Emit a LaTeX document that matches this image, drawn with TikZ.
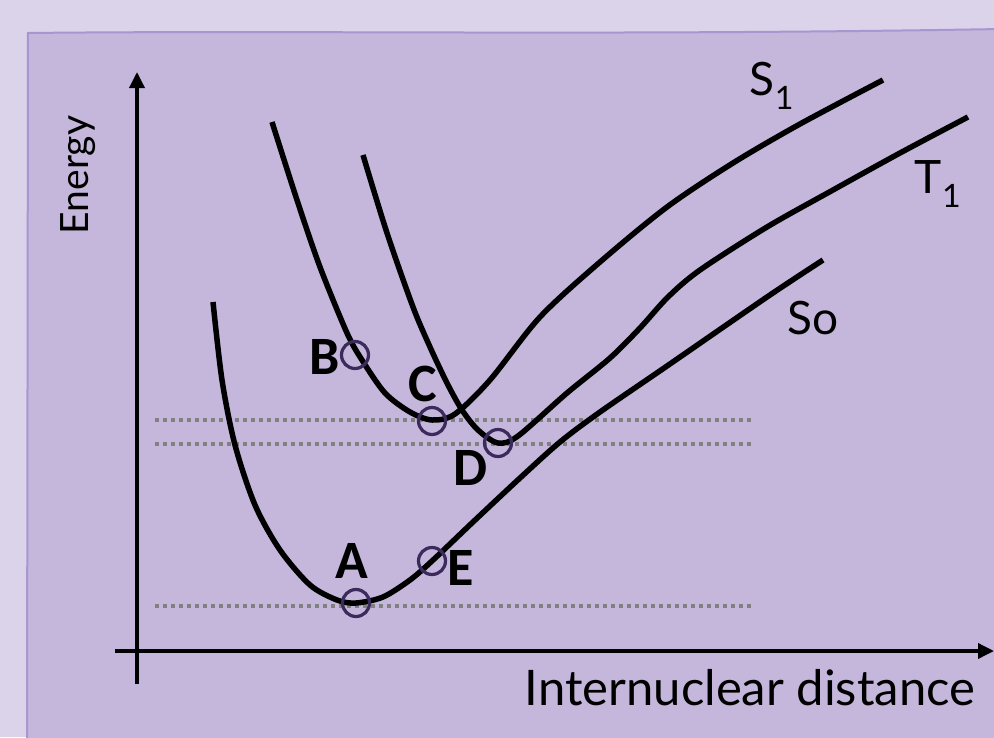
\documentclass[tikz,border=0pt]{standalone}
\usepackage{fontspec}
\setmainfont{Lato}
\newfontfamily\labelfont{Carlito}
\usetikzlibrary{arrows.meta}

\definecolor{outerbg}{HTML}{DAD3EA}
\definecolor{innerbg}{HTML}{C5B6DB}
\definecolor{framecol}{HTML}{A896D0}
\definecolor{ringcol}{HTML}{3B2A5C}

\begin{document}
\begin{tikzpicture}[x=1pt, y=-1pt,
    curve/.style={line width=5.5pt},
    axis/.style={line width=3.5pt, -{Triangle[length=16pt,width=15pt]}},
    level/.style={gray, line width=3.5pt, dash pattern=on 3.5pt off 4.5pt},
    ring/.style={circle, draw=ringcol, line width=3.2pt, minimum size=27pt, inner sep=0pt},
    point/.style={font=\labelfont\bfseries\fontsize{54}{54}\selectfont},
    tag/.style={font=\fontsize{46}{46}\selectfont}
]

\useasboundingbox (0,0) rectangle (994,737);
\fill[outerbg] (0,0) rectangle (994,737);

% Panel
\fill[innerbg] (28,33) .. controls (300,30) and (600,36) .. (1000,29) -- (1000,745) -- (28,745) -- cycle;
\draw[framecol, line width=2pt] (27,745) -- (28,33) .. controls (300,30) and (600,36) .. (1000,29);

% Axes
\coordinate (ybot) at (137,684);
\coordinate (ytop) at (137,72);
\coordinate (xleft) at (115,651);
\coordinate (xright) at (994,651);
\draw[axis] (ybot) -- (ytop);
\draw[axis] (xleft) -- (xright);

\node[tag, font=\fontsize{39}{39}\selectfont, rotate=90] (energy) at (78,175) {Energy};
\node[tag, font=\fontsize{49}{49}\selectfont] (distance) at (750,688) {Internuclear distance};

% Levels
\coordinate (l1a) at (155,420); \coordinate (l1b) at (752,420);
\coordinate (l2a) at (155,444); \coordinate (l2b) at (752,444);
\coordinate (l3a) at (155,606); \coordinate (l3b) at (752,606);
\draw[level] (l1a) -- (l1b);
\draw[level] (l2a) -- (l2b);
\draw[level] (l3a) -- (l3b);

% Curves
\draw[curve] plot[smooth] coordinates {(213,302) (222,380) (235,445) (255,505) (280,550) (310,585)
  (337,600) (356,603) (383,597) (410,580) (432,561) (473,522) (520,478) (560,442) (600,412)
  (667,366) (767,297) (823,260)};
\draw[curve] plot[smooth] coordinates {(272,122) (297,200) (320,267) (347,333) (362,360)
  (385,393) (410,412) (432,420) (455,414) (490,380) (540,317) (600,262) (667,207)
  (733,163) (800,124) (883,80)};
\draw[curve] plot[smooth] coordinates {(363,155) (387,233) (413,307) (430,347) (447,383)
  (462,410) (478,430) (498,443) (518,436) (567,393) (610,358) (640,328) (668,297)
  (700,270) (767,227) (833,190) (900,153) (968,117)};

\node[tag] (s1) at (772,86) {S\textsubscript{1}};
\node[tag] (t1) at (938,184) {T\textsubscript{1}};
\node[tag] (s0) at (813,318) {So};

% Points
\node[ring] (ringB) at (355,355) {};
\node[ring] (ringC) at (432,421) {};
\node[ring] (ringD) at (498,443) {};
\node[ring] (ringA) at (356,603) {};
\node[ring] (ringE) at (432,561) {};

\node[point] (labB) at (325,357) {B};
\node[point] (labC) at (423,384) {C};
\node[point] (labD) at (471,468) {D};
\node[point] (labA) at (352,561) {A};
\node[point] (labE) at (461,568) {E};

\end{tikzpicture}
\end{document}
